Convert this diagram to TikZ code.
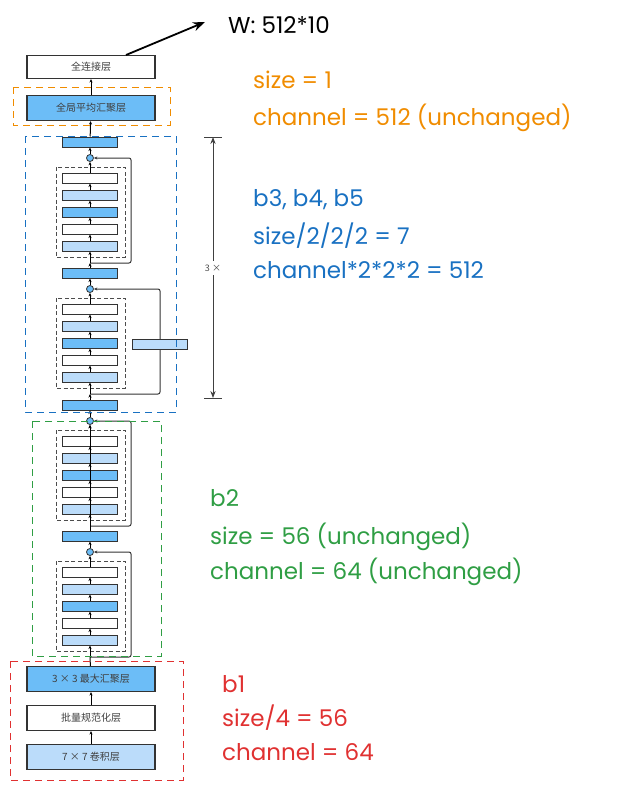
\documentclass[tikz,border=0pt]{standalone}
\usepackage{fontspec}
\setmainfont{Poppins}
\newfontfamily\cjk{Noto Sans CJK SC}
\usetikzlibrary{arrows.meta}
\definecolor{darkbar}{HTML}{6CBDF7}
\definecolor{lightbar}{HTML}{BBDCFA}
\definecolor{note orange}{HTML}{F08C00}
\definecolor{note blue}{HTML}{1971C2}
\definecolor{note green}{HTML}{2F9E44}
\definecolor{note red}{HTML}{E03131}
\begin{document}
\begin{tikzpicture}[x=1pt, y=-1pt, >={Stealth[length=3.5pt,width=3pt]}]
    \tikzset{layer/.style={rectangle, draw=black!80, line width=1.1pt, minimum width=128pt, minimum height=25pt, inner sep=0pt, font=\cjk\fontsize{10}{11}\selectfont, text=black!75}}
    \tikzset{bar/.style={rectangle, draw=black!80, line width=1pt, minimum width=55pt, minimum height=10pt, inner sep=0pt}}
    \tikzset{plus/.style={circle, draw=black!80, fill=darkbar, line width=0.8pt, minimum size=7pt, inner sep=0pt}}
    \tikzset{group/.style={draw, dashed, line width=1pt, dash pattern=on 7pt off 5pt}}
    \tikzset{note/.style={anchor=west, font=\fontsize{23}{26}\selectfont, inner sep=0pt}}
    \useasboundingbox (0,0) rectangle (617,792);

    % Stem
    \node [layer, fill=lightbar] (conv) at (91,757) {7 × 7 卷积层};
    \node [layer, fill=white] (bn) at (91,718) {批量规范化层};
    \node [layer, fill=darkbar] (pool) at (91,679) {3 × 3 最大汇聚层};
    \draw [->, line width=1pt] (conv) -- (bn);
    \draw [->, line width=1pt] (bn) -- (pool);

    % Residual blocks (circle height / skip x)
    \foreach \c/\s [count=\i] in {552/131, 421/131, 289/160, 158/131} {
        \node [plus] (add\i) at (90,\c) {};
        \node [bar, fill=darkbar] (out\i) at (90,\c-16) {};
        \draw [group, draw=black!70, line width=1pt, dash pattern=on 4pt off 2.5pt] (56,\c+9) rectangle (125,\c+99);
        \foreach \k/\f in {1/white, 2/lightbar, 3/darkbar, 4/white, 5/lightbar}
            \node [bar, fill=\f] (bar\i-\k) at (90,\c+3+17*\k) {};
        \foreach \k [evaluate=\k as \j using int(\k+1)] in {1,...,4}
            \draw [->, line width=0.7pt] (bar\i-\j) -- (bar\i-\k);
        \draw [->, line width=0.8pt] (bar\i-1) -- (add\i);
        \draw [->, line width=0.8pt] (add\i) -- (out\i);
        \coordinate (in\i) at (90,\c+105);
        \draw [->, line width=1pt, black!80, rounded corners=2pt] (in\i) -- (\s,\c+105) -- (\s,\c) -- (add\i);
    }
    \node [bar, fill=lightbar] (proj) at (160,344) {};
    \draw [line width=1pt] (pool) -- (in1);
    \draw [->, line width=0.8pt] (in1) -- (bar1-5);
    \draw [->, line width=0.8pt] (out1) -- (add2);
    \draw [->, line width=0.8pt] (in2) -- (bar2-5);
    \draw [->, line width=0.8pt] (out2) -- (in3);
    \draw [->, line width=0.8pt] (in3) -- (bar3-5);
    \draw [->, line width=0.8pt] (out3) -- (in4);
    \draw [->, line width=0.8pt] (in4) -- (bar4-5);

    % Head
    \node [layer, fill=darkbar] (gap) at (91,108) {全局平均汇聚层};
    \node [layer, fill=white, minimum height=23pt] (fc) at (91,67) {全连接层};
    \draw [->, line width=1pt] (out4) -- (gap);
    \draw [->, line width=1pt] (gap) -- (fc);
    \coordinate (wend) at (205,22);
    \draw [-{Stealth[length=12pt,width=9pt]}, line width=1.8pt] (126,55) -- (wend);
    \node [note, text=black] (wlabel) at (228,25) {W: 512*10};

    % Dimension
    \coordinate (dimtop) at (213,137);
    \coordinate (dimbot) at (213,398);
    \draw [{Stealth[length=7pt]}-{Stealth[length=7pt]}, line width=1pt, black!75] (dimtop) -- (dimbot);
    \draw [line width=1pt, black!75] (204,137) -- (222,137) (204,398) -- (222,398);
    \node [fill=white, font=\fontsize{9}{10}\selectfont\cjk, text=black!70] (times) at (213,268) {3 ×};

    % Groups
    \draw [group, note orange] (13,87) rectangle (170,125);
    \draw [group, note blue] (25,136) rectangle (176,412);
    \draw [group, note green] (32,421) rectangle (161,656);
    \draw [group, note red] (10,661) rectangle (183,780);

    % Notes
    \node [note, text=note orange] (o1) at (253,80) {size = 1};
    \node [note, text=note orange] (o2) at (253,118) {channel = 512 (unchanged)};
    \node [note, text=note blue] (u1) at (253,200) {b3, b4, b5};
    \node [note, text=note blue] (u2) at (253,236) {size/2/2/2 = 7};
    \node [note, text=note blue] (u3) at (253,270) {channel*2*2*2 = 512};
    \node [note, text=note green] (g1) at (210,498) {b2};
    \node [note, text=note green] (g2) at (210,537) {size = 56 (unchanged)};
    \node [note, text=note green] (g3) at (210,572) {channel = 64 (unchanged)};
    \node [note, text=note red] (r1) at (222,684) {b1};
    \node [note, text=note red] (r2) at (222,718) {size/4 = 56};
    \node [note, text=note red] (r3) at (222,752) {channel = 64};
\end{tikzpicture}
\end{document}
